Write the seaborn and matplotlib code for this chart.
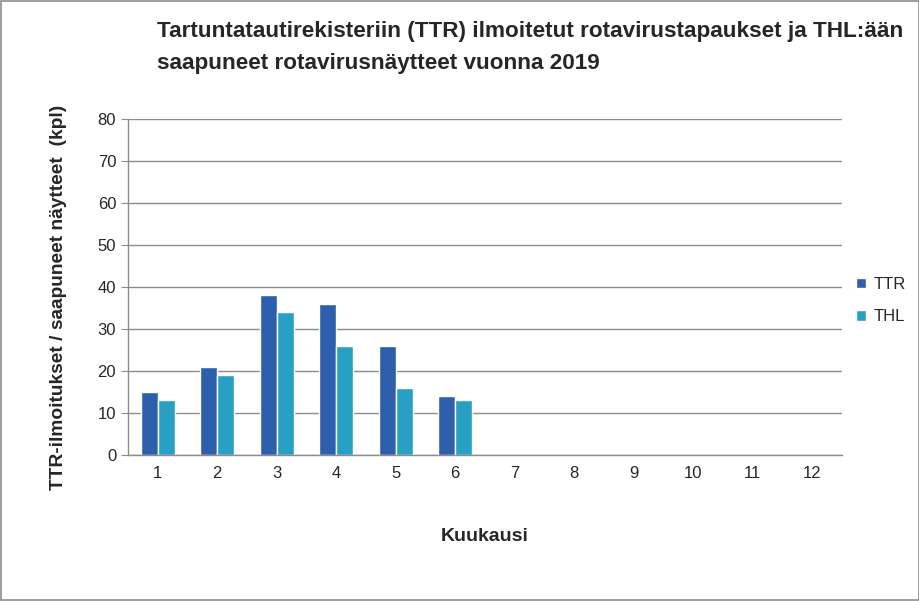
import numpy as np
import pandas as pd
import matplotlib
matplotlib.use('Agg')
import matplotlib.pyplot as plt
import seaborn as sns
from matplotlib.patches import Rectangle

# Kuukausittaiset tapausmäärät 2019 (vain tammi-kesäkuu raportoitu)
kuukaudet = [str(m) for m in range(1, 13)]
raportoidut = ['1', '2', '3', '4', '5', '6']
ttr = [15, 21, 38, 36, 26, 14]
thl = [13, 19, 34, 26, 16, 13]
sarjat = ['TTR', 'THL']
varit = ['#2E5FAC', '#28A0C4']

df = pd.DataFrame({
    'Kuukausi': raportoidut * 2,
    'kpl': ttr + thl,
    'Sarja': ['TTR'] * len(ttr) + ['THL'] * len(thl),
})

sns.set_style('white')
plt.rcParams['font.family'] = ['Liberation Sans Narrow', 'Liberation Sans', 'DejaVu Sans']

fig = plt.figure(figsize=(9.2, 6.01), dpi=100)
ax = fig.add_axes([128 / 920, 1 - 455 / 601, 714 / 920, 336 / 601])

sns.barplot(data=df, x='Kuukausi', y='kpl', hue='Sarja', order=kuukaudet,
            hue_order=sarjat, palette=varit, width=0.57, gap=0,
            saturation=1, ax=ax, legend=True)

ax.set_ylim(0, 80)
ax.set_xlim(-0.5, 11.5)
ax.set_yticks(np.arange(0, 81, 10))
ax.yaxis.grid(True, color='#8c8c8c', linewidth=1)
ax.set_axisbelow(True)
for side in ['top', 'right']:
    ax.spines[side].set_visible(False)
for side in ['left', 'bottom']:
    ax.spines[side].set_color('#8c8c8c')
    ax.spines[side].set_linewidth(1)

ax.tick_params(axis='x', which='major', length=0, labelsize=12, pad=8)
ax.set_xticks(np.arange(-0.5, 12, 1), minor=True)
ax.tick_params(axis='x', which='minor', length=5, color='#8c8c8c', direction='out')
ax.tick_params(axis='y', length=5, color='#8c8c8c', direction='out', labelsize=12, left=True)

ax.set_xlabel('Kuukausi', fontsize=14, fontweight='bold', labelpad=34)
ax.set_ylabel('TTR-ilmoitukset / saapuneet näytteet  (kpl)', fontsize=13.8,
              fontweight='bold')
ax.yaxis.set_label_coords(-0.085, 0.47)

leg = ax.legend(loc='center left', bbox_to_anchor=(0.998, 0.46), frameon=False,
                fontsize=12, handlelength=0.6, handleheight=0.6,
                labelspacing=1.05, handletextpad=0.5)

fig.text(157 / 920, 1 - 31 / 601,
         'Tartuntatautirekisteriin (TTR) ilmoitetut rotavirustapaukset ja THL:ään',
         fontsize=16.2, fontweight='bold', va='center', ha='left')
fig.text(157 / 920, 1 - 63 / 601,
         'saapuneet rotavirusnäytteet vuonna 2019',
         fontsize=16.2, fontweight='bold', va='center', ha='left')

fig.patches.append(Rectangle((0.001, 0.001), 0.998, 0.998, transform=fig.transFigure,
                             fill=False, edgecolor='#8c8c8c', linewidth=1.2))

fig.savefig('out.png', dpi=100)
